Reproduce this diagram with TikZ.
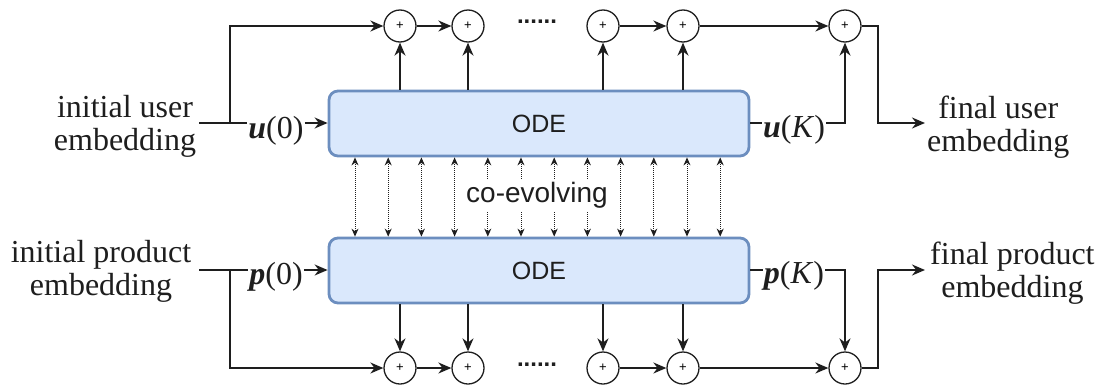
\documentclass[tikz,border=0pt]{standalone}
\usepackage{fontspec}
\setmainfont{Liberation Serif}
\newfontfamily\sansf{Liberation Sans}
\usetikzlibrary{arrows.meta,calc}
\definecolor{odefill}{HTML}{DAE8FC}
\definecolor{odeline}{HTML}{6C8EBF}
\definecolor{ink}{HTML}{1E1E1E}
\begin{document}
\begin{tikzpicture}[x=1pt,y=-1pt,
  odebox/.style={draw=odeline, fill=odefill, line width=2.8pt, rounded corners=9pt,
    minimum width=420pt, minimum height=65pt, inner sep=0pt, text=ink,
    font=\sansf\fontsize{25}{30}\selectfont},
  sumnode/.style={circle, draw=ink, line width=1.3pt, minimum size=32pt, inner sep=0pt,
    fill=white, font=\sansf\fontsize{13}{14}\selectfont},
  lbl/.style={font=\fontsize{32}{33}\selectfont, align=center, text=ink, inner sep=0pt},
  var/.style={font=\fontsize{32}{34}\selectfont, text=ink, inner sep=1pt, anchor=base},
  conn/.style={line width=1.5pt, draw=ink},
  arr/.style={conn, -{Stealth[length=13pt,width=11pt]}},
  coev/.style={densely dotted, line width=1pt, draw=ink,
    {Stealth[length=8pt,width=7pt]}-{Stealth[length=8pt,width=7pt]}},
  dotsnode/.style={font=\sansf\bfseries\fontsize{24}{24}\selectfont, text=ink, inner sep=0pt},
]
\useasboundingbox (0,0) rectangle (1104,386);

% ODE boxes
\node[odebox] (ode1) at (539,123.5) {ODE};
\node[odebox] (ode2) at (539,270.5) {ODE};

% sum nodes
\foreach \n/\x in {1/400,2/468,3/603,4/683,5/845}{
  \node[sumnode] (t\n) at (\x,26) {+};
  \node[sumnode] (b\n) at (\x,368) {+};
}
\node[dotsnode] (dots1) at (537,22) {......};
\node[dotsnode] (dots2) at (537,365) {......};

% side labels
\node[lbl] (iu) at (125,126) {initial user\\embedding};
\node[lbl] (ip) at (101,271) {initial product\\embedding};
\node[lbl, anchor=west] (fu) at (927,127) {final user\\embedding};
\node[lbl, anchor=west] (fp) at (930,273) {final product\\embedding};

% variable labels
\node[var] (u0) at (276,138) {{\bfseries\itshape u}(0)};
\node[var] (p0) at (276,284) {{\bfseries\itshape p}(0)};
\node[var] (uK) at (794,137) {{\bfseries\itshape u}(\textit{K})};
\node[var] (pK) at (794,283) {{\bfseries\itshape p}(\textit{K})};

% helper coordinates
\coordinate (uin) at (199,123);
\coordinate (ubr) at (230,123);
\coordinate (pin) at (199,270);
\coordinate (pbr) at (230,270);
\coordinate (uout) at (878,123);
\coordinate (pout) at (878,270);
\coordinate (uend) at (925,123);
\coordinate (pend) at (925,270);

% user path
\draw[conn] (uin) -- (u0.west |- uin);
\draw[arr] (u0.east |- uin) -- (ode1.west |- uin);
\draw[arr] (ubr) |- (t1.west);
\draw[arr] (t1) -- (t2);
\draw[arr] (t3) -- (t4);
\draw[arr] (t4) -- (t5);
\foreach \n in {1,2,3,4}{ \draw[arr] (ode1.north -| t\n) -- (t\n.south); }
\draw[conn] (ode1.east |- uin) -- (uK.west |- uin);
\draw[arr] (uK.east |- uin) -| (t5.south);
\draw[arr] (t5.east) -| (uout) -- (uend);

% product path
\draw[conn] (pin) -- (p0.west |- pin);
\draw[arr] (p0.east |- pin) -- (ode2.west |- pin);
\draw[arr] (pbr) |- (b1.west);
\draw[arr] (b1) -- (b2);
\draw[arr] (b3) -- (b4);
\draw[arr] (b4) -- (b5);
\foreach \n in {1,2,3,4}{ \draw[arr] (ode2.south -| b\n) -- (b\n.north); }
\draw[conn] (ode2.east |- pin) -- (pK.west |- pin);
\draw[arr] (pK.east |- pin) -| (b5.north);
\draw[arr] (b5.east) -| (pout) -- (pend);

% co-evolving arrows
\foreach \i in {0,...,11}{
  \coordinate (cx\i) at ({355+33.2*\i},0);
  \draw[coev] (cx\i |- ode1.south) -- (cx\i |- ode2.north);
}
\node[fill=white, inner sep=3pt, text=ink, font=\sansf\fontsize{28}{30}\selectfont] (coevo) at (537,195) {co-evolving};
\end{tikzpicture}
\end{document}
